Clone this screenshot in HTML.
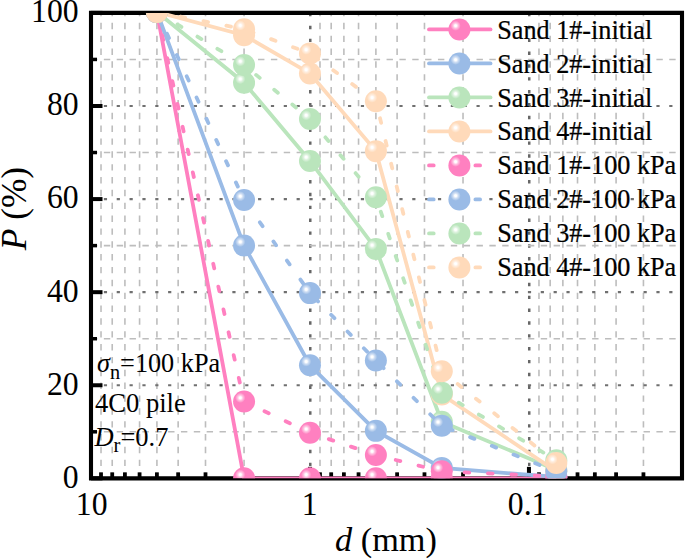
<!DOCTYPE html><html><head><meta charset="utf-8"><style>html,body{margin:0;padding:0;background:#fff;}svg{display:block;}text{font-family:"Liberation Serif",serif;}.b{stroke:#000;stroke-width:0.25px;}</style></head><body>
<svg width="685" height="560" viewBox="0 0 685 560">
<defs>
<radialGradient id="gpink" cx="0.328" cy="0.33" r="0.23" fx="0.328" fy="0.33"><stop offset="0" stop-color="#fff"/><stop offset="0.2" stop-color="#fff"/><stop offset="0.5" stop-color="#ffc6e3"/><stop offset="0.85" stop-color="#ff97cb"/><stop offset="1" stop-color="#FF80C0"/></radialGradient>
<radialGradient id="gblue" cx="0.328" cy="0.33" r="0.23" fx="0.328" fy="0.33"><stop offset="0" stop-color="#fff"/><stop offset="0.2" stop-color="#fff"/><stop offset="0.5" stop-color="#d2e0f4"/><stop offset="0.85" stop-color="#acc7ea"/><stop offset="1" stop-color="#9ABBE6"/></radialGradient>
<radialGradient id="ggreen" cx="0.328" cy="0.33" r="0.23" fx="0.328" fy="0.33"><stop offset="0" stop-color="#fff"/><stop offset="0.2" stop-color="#fff"/><stop offset="0.5" stop-color="#e0f3e1"/><stop offset="0.85" stop-color="#c6eac8"/><stop offset="1" stop-color="#BAE5BC"/></radialGradient>
<radialGradient id="gpeach" cx="0.328" cy="0.33" r="0.23" fx="0.328" fy="0.33"><stop offset="0" stop-color="#fff"/><stop offset="0.2" stop-color="#fff"/><stop offset="0.5" stop-color="#ffeee0"/><stop offset="0.85" stop-color="#ffe1c6"/><stop offset="1" stop-color="#FFDABA"/></radialGradient>
<clipPath id="clip"><rect x="91.0" y="12.9" width="591.0" height="465.45"/></clipPath>
</defs>
<rect width="685" height="560" fill="#fff"/>
<line x1="244.06" y1="478.95" x2="244.06" y2="12.9" stroke="#bdbdbd" stroke-width="1.6" stroke-dasharray="6.4 6.45"/>
<line x1="205.50" y1="478.95" x2="205.50" y2="12.9" stroke="#bdbdbd" stroke-width="1.6" stroke-dasharray="6.4 6.45"/>
<line x1="178.14" y1="478.95" x2="178.14" y2="12.9" stroke="#bdbdbd" stroke-width="1.6" stroke-dasharray="6.4 6.45"/>
<line x1="156.92" y1="478.95" x2="156.92" y2="12.9" stroke="#bdbdbd" stroke-width="1.6" stroke-dasharray="6.4 6.45"/>
<line x1="139.58" y1="478.95" x2="139.58" y2="12.9" stroke="#bdbdbd" stroke-width="1.6" stroke-dasharray="6.4 6.45"/>
<line x1="124.92" y1="478.95" x2="124.92" y2="12.9" stroke="#bdbdbd" stroke-width="1.6" stroke-dasharray="6.4 6.45"/>
<line x1="112.22" y1="478.95" x2="112.22" y2="12.9" stroke="#bdbdbd" stroke-width="1.6" stroke-dasharray="6.4 6.45"/>
<line x1="101.02" y1="478.95" x2="101.02" y2="12.9" stroke="#bdbdbd" stroke-width="1.6" stroke-dasharray="6.4 6.45"/>
<line x1="463.03" y1="478.95" x2="463.03" y2="12.9" stroke="#bdbdbd" stroke-width="1.6" stroke-dasharray="6.4 6.45"/>
<line x1="424.47" y1="478.95" x2="424.47" y2="12.9" stroke="#bdbdbd" stroke-width="1.6" stroke-dasharray="6.4 6.45"/>
<line x1="397.11" y1="478.95" x2="397.11" y2="12.9" stroke="#bdbdbd" stroke-width="1.6" stroke-dasharray="6.4 6.45"/>
<line x1="375.89" y1="478.95" x2="375.89" y2="12.9" stroke="#bdbdbd" stroke-width="1.6" stroke-dasharray="6.4 6.45"/>
<line x1="358.55" y1="478.95" x2="358.55" y2="12.9" stroke="#bdbdbd" stroke-width="1.6" stroke-dasharray="6.4 6.45"/>
<line x1="343.89" y1="478.95" x2="343.89" y2="12.9" stroke="#bdbdbd" stroke-width="1.6" stroke-dasharray="6.4 6.45"/>
<line x1="331.19" y1="478.95" x2="331.19" y2="12.9" stroke="#bdbdbd" stroke-width="1.6" stroke-dasharray="6.4 6.45"/>
<line x1="319.99" y1="478.95" x2="319.99" y2="12.9" stroke="#bdbdbd" stroke-width="1.6" stroke-dasharray="6.4 6.45"/>
<line x1="643.44" y1="478.95" x2="643.44" y2="12.9" stroke="#bdbdbd" stroke-width="1.6" stroke-dasharray="6.4 6.45"/>
<line x1="616.08" y1="478.95" x2="616.08" y2="12.9" stroke="#bdbdbd" stroke-width="1.6" stroke-dasharray="6.4 6.45"/>
<line x1="594.86" y1="478.95" x2="594.86" y2="12.9" stroke="#bdbdbd" stroke-width="1.6" stroke-dasharray="6.4 6.45"/>
<line x1="577.52" y1="478.95" x2="577.52" y2="12.9" stroke="#bdbdbd" stroke-width="1.6" stroke-dasharray="6.4 6.45"/>
<line x1="562.86" y1="478.95" x2="562.86" y2="12.9" stroke="#bdbdbd" stroke-width="1.6" stroke-dasharray="6.4 6.45"/>
<line x1="550.17" y1="478.95" x2="550.17" y2="12.9" stroke="#bdbdbd" stroke-width="1.6" stroke-dasharray="6.4 6.45"/>
<line x1="538.96" y1="478.95" x2="538.96" y2="12.9" stroke="#bdbdbd" stroke-width="1.6" stroke-dasharray="6.4 6.45"/>
<line x1="310.27" y1="478.95" x2="310.27" y2="12.9" stroke="#666" stroke-width="2.5" stroke-dasharray="3.4 9.45"/>
<line x1="529.24" y1="478.95" x2="529.24" y2="12.9" stroke="#666" stroke-width="2.5" stroke-dasharray="3.4 9.45"/>
<line x1="91.0" y1="431.81" x2="682.0" y2="431.81" stroke="#bdbdbd" stroke-width="1.6" stroke-dasharray="6.4 6.45"/>
<line x1="91.0" y1="338.72" x2="682.0" y2="338.72" stroke="#bdbdbd" stroke-width="1.6" stroke-dasharray="6.4 6.45"/>
<line x1="91.0" y1="245.62" x2="682.0" y2="245.62" stroke="#bdbdbd" stroke-width="1.6" stroke-dasharray="6.4 6.45"/>
<line x1="91.0" y1="152.53" x2="682.0" y2="152.53" stroke="#bdbdbd" stroke-width="1.6" stroke-dasharray="6.4 6.45"/>
<line x1="91.0" y1="59.44" x2="682.0" y2="59.44" stroke="#bdbdbd" stroke-width="1.6" stroke-dasharray="6.4 6.45"/>
<line x1="91.0" y1="385.26" x2="682.0" y2="385.26" stroke="#707070" stroke-width="2.2" stroke-dasharray="3.2 9.65"/>
<line x1="91.0" y1="292.17" x2="682.0" y2="292.17" stroke="#707070" stroke-width="2.2" stroke-dasharray="3.2 9.65"/>
<line x1="91.0" y1="199.08" x2="682.0" y2="199.08" stroke="#707070" stroke-width="2.2" stroke-dasharray="3.2 9.65"/>
<line x1="91.0" y1="105.99" x2="682.0" y2="105.99" stroke="#707070" stroke-width="2.2" stroke-dasharray="3.2 9.65"/>
<path d="M89,12.9H684M89,478.4H684M91,10.8V480.5M682,10.8V480.5" stroke="#000" stroke-width="4.1" fill="none"/>
<line x1="91.0" y1="478.35" x2="102.5" y2="478.35" stroke="#000" stroke-width="4"/>
<line x1="91.0" y1="385.26" x2="102.5" y2="385.26" stroke="#000" stroke-width="4"/>
<line x1="91.0" y1="292.17" x2="102.5" y2="292.17" stroke="#000" stroke-width="4"/>
<line x1="91.0" y1="199.08" x2="102.5" y2="199.08" stroke="#000" stroke-width="4"/>
<line x1="91.0" y1="105.99" x2="102.5" y2="105.99" stroke="#000" stroke-width="4"/>
<line x1="91.0" y1="12.90" x2="102.5" y2="12.90" stroke="#000" stroke-width="4"/>
<line x1="91.0" y1="431.81" x2="97.0" y2="431.81" stroke="#000" stroke-width="3.5"/>
<line x1="91.0" y1="338.72" x2="97.0" y2="338.72" stroke="#000" stroke-width="3.5"/>
<line x1="91.0" y1="245.62" x2="97.0" y2="245.62" stroke="#000" stroke-width="3.5"/>
<line x1="91.0" y1="152.53" x2="97.0" y2="152.53" stroke="#000" stroke-width="3.5"/>
<line x1="91.0" y1="59.44" x2="97.0" y2="59.44" stroke="#000" stroke-width="3.5"/>
<line x1="91.00" y1="478.35" x2="91.00" y2="466.85" stroke="#000" stroke-width="4"/>
<line x1="309.97" y1="478.35" x2="309.97" y2="466.85" stroke="#000" stroke-width="4"/>
<line x1="528.94" y1="478.35" x2="528.94" y2="466.85" stroke="#000" stroke-width="4"/>
<line x1="244.06" y1="478.35" x2="244.06" y2="472.35" stroke="#000" stroke-width="3.8"/>
<line x1="205.50" y1="478.35" x2="205.50" y2="472.35" stroke="#000" stroke-width="3.8"/>
<line x1="178.14" y1="478.35" x2="178.14" y2="472.35" stroke="#000" stroke-width="3.8"/>
<line x1="156.92" y1="478.35" x2="156.92" y2="472.35" stroke="#000" stroke-width="3.8"/>
<line x1="139.58" y1="478.35" x2="139.58" y2="472.35" stroke="#000" stroke-width="3.8"/>
<line x1="124.92" y1="478.35" x2="124.92" y2="472.35" stroke="#000" stroke-width="3.8"/>
<line x1="112.22" y1="478.35" x2="112.22" y2="472.35" stroke="#000" stroke-width="3.8"/>
<line x1="101.02" y1="478.35" x2="101.02" y2="472.35" stroke="#000" stroke-width="3.8"/>
<line x1="463.03" y1="478.35" x2="463.03" y2="472.35" stroke="#000" stroke-width="3.8"/>
<line x1="424.47" y1="478.35" x2="424.47" y2="472.35" stroke="#000" stroke-width="3.8"/>
<line x1="397.11" y1="478.35" x2="397.11" y2="472.35" stroke="#000" stroke-width="3.8"/>
<line x1="375.89" y1="478.35" x2="375.89" y2="472.35" stroke="#000" stroke-width="3.8"/>
<line x1="358.55" y1="478.35" x2="358.55" y2="472.35" stroke="#000" stroke-width="3.8"/>
<line x1="343.89" y1="478.35" x2="343.89" y2="472.35" stroke="#000" stroke-width="3.8"/>
<line x1="331.19" y1="478.35" x2="331.19" y2="472.35" stroke="#000" stroke-width="3.8"/>
<line x1="319.99" y1="478.35" x2="319.99" y2="472.35" stroke="#000" stroke-width="3.8"/>
<line x1="643.44" y1="478.35" x2="643.44" y2="472.35" stroke="#000" stroke-width="3.8"/>
<line x1="616.08" y1="478.35" x2="616.08" y2="472.35" stroke="#000" stroke-width="3.8"/>
<line x1="594.86" y1="478.35" x2="594.86" y2="472.35" stroke="#000" stroke-width="3.8"/>
<line x1="577.52" y1="478.35" x2="577.52" y2="472.35" stroke="#000" stroke-width="3.8"/>
<line x1="562.86" y1="478.35" x2="562.86" y2="472.35" stroke="#000" stroke-width="3.8"/>
<line x1="550.17" y1="478.35" x2="550.17" y2="472.35" stroke="#000" stroke-width="3.8"/>
<line x1="538.96" y1="478.35" x2="538.96" y2="472.35" stroke="#000" stroke-width="3.8"/>
<g clip-path="url(#clip)">
<polyline points="156.92,11.97 244.06,478.35 309.97,478.35 375.89,478.35 441.81,478.35 556.30,478.35" fill="none" stroke="#FF80C0" stroke-width="3.8"/>
<circle cx="156.92" cy="11.97" r="11" fill="url(#gpink)"/>
<circle cx="244.06" cy="478.35" r="11" fill="url(#gpink)"/>
<circle cx="309.97" cy="478.35" r="11" fill="url(#gpink)"/>
<circle cx="375.89" cy="478.35" r="11" fill="url(#gpink)"/>
<circle cx="441.81" cy="478.35" r="11" fill="url(#gpink)"/>
<circle cx="556.30" cy="478.35" r="11" fill="url(#gpink)"/>
<polyline points="156.92,11.97 244.06,245.62 309.97,365.25 375.89,430.87 441.81,467.88 556.30,476.95" fill="none" stroke="#9ABBE6" stroke-width="3.8"/>
<circle cx="156.92" cy="11.97" r="11" fill="url(#gblue)"/>
<circle cx="244.06" cy="245.62" r="11" fill="url(#gblue)"/>
<circle cx="309.97" cy="365.25" r="11" fill="url(#gblue)"/>
<circle cx="375.89" cy="430.87" r="11" fill="url(#gblue)"/>
<circle cx="441.81" cy="467.88" r="11" fill="url(#gblue)"/>
<circle cx="556.30" cy="476.95" r="11" fill="url(#gblue)"/>
<polyline points="156.92,11.97 244.06,82.72 309.97,160.91 375.89,248.88 441.81,421.80 556.30,469.97" fill="none" stroke="#BAE5BC" stroke-width="3.8"/>
<circle cx="156.92" cy="11.97" r="11" fill="url(#ggreen)"/>
<circle cx="244.06" cy="82.72" r="11" fill="url(#ggreen)"/>
<circle cx="309.97" cy="160.91" r="11" fill="url(#ggreen)"/>
<circle cx="375.89" cy="248.88" r="11" fill="url(#ggreen)"/>
<circle cx="441.81" cy="421.80" r="11" fill="url(#ggreen)"/>
<circle cx="556.30" cy="469.97" r="11" fill="url(#ggreen)"/>
<polyline points="156.92,11.97 244.06,35.24 309.97,73.41 375.89,151.14 441.81,394.57 556.30,471.37" fill="none" stroke="#FFDABA" stroke-width="3.8"/>
<circle cx="156.92" cy="11.97" r="11" fill="url(#gpeach)"/>
<circle cx="244.06" cy="35.24" r="11" fill="url(#gpeach)"/>
<circle cx="309.97" cy="73.41" r="11" fill="url(#gpeach)"/>
<circle cx="375.89" cy="151.14" r="11" fill="url(#gpeach)"/>
<circle cx="441.81" cy="394.57" r="11" fill="url(#gpeach)"/>
<circle cx="556.30" cy="471.37" r="11" fill="url(#gpeach)"/>
<polyline points="156.92,11.97 244.06,401.55 309.97,432.74 375.89,455.08 441.81,471.37 556.30,476.49" fill="none" stroke="#FF80C0" stroke-width="3.8" stroke-dasharray="4.7 18.7" stroke-dashoffset="-0.6" stroke-linecap="round"/>
<circle cx="156.92" cy="11.97" r="11" fill="url(#gpink)"/>
<circle cx="244.06" cy="401.55" r="11" fill="url(#gpink)"/>
<circle cx="309.97" cy="432.74" r="11" fill="url(#gpink)"/>
<circle cx="375.89" cy="455.08" r="11" fill="url(#gpink)"/>
<circle cx="441.81" cy="471.37" r="11" fill="url(#gpink)"/>
<circle cx="556.30" cy="476.49" r="11" fill="url(#gpink)"/>
<polyline points="156.92,11.97 244.06,200.01 309.97,293.10 375.89,360.59 441.81,425.75 556.30,471.83" fill="none" stroke="#9ABBE6" stroke-width="3.8" stroke-dasharray="4.7 18.7" stroke-dashoffset="-0.6" stroke-linecap="round"/>
<circle cx="156.92" cy="11.97" r="11" fill="url(#gblue)"/>
<circle cx="244.06" cy="200.01" r="11" fill="url(#gblue)"/>
<circle cx="309.97" cy="293.10" r="11" fill="url(#gblue)"/>
<circle cx="375.89" cy="360.59" r="11" fill="url(#gblue)"/>
<circle cx="441.81" cy="425.75" r="11" fill="url(#gblue)"/>
<circle cx="556.30" cy="471.83" r="11" fill="url(#gblue)"/>
<polyline points="156.92,11.97 244.06,65.03 309.97,119.02 375.89,197.22 441.81,392.71 556.30,460.20" fill="none" stroke="#BAE5BC" stroke-width="3.8" stroke-dasharray="4.7 18.7" stroke-dashoffset="-0.6" stroke-linecap="round"/>
<circle cx="156.92" cy="11.97" r="11" fill="url(#ggreen)"/>
<circle cx="244.06" cy="65.03" r="11" fill="url(#ggreen)"/>
<circle cx="309.97" cy="119.02" r="11" fill="url(#ggreen)"/>
<circle cx="375.89" cy="197.22" r="11" fill="url(#ggreen)"/>
<circle cx="441.81" cy="392.71" r="11" fill="url(#ggreen)"/>
<circle cx="556.30" cy="460.20" r="11" fill="url(#ggreen)"/>
<polyline points="156.92,11.97 244.06,29.19 309.97,53.39 375.89,101.34 441.81,371.30 556.30,462.99" fill="none" stroke="#FFDABA" stroke-width="3.8" stroke-dasharray="4.7 18.7" stroke-dashoffset="-0.6" stroke-linecap="round"/>
<circle cx="156.92" cy="11.97" r="11" fill="url(#gpeach)"/>
<circle cx="244.06" cy="29.19" r="11" fill="url(#gpeach)"/>
<circle cx="309.97" cy="53.39" r="11" fill="url(#gpeach)"/>
<circle cx="375.89" cy="101.34" r="11" fill="url(#gpeach)"/>
<circle cx="441.81" cy="371.30" r="11" fill="url(#gpeach)"/>
<circle cx="556.30" cy="462.99" r="11" fill="url(#gpeach)"/>
</g>
<line x1="429" y1="29.45" x2="490.5" y2="29.45" stroke="#FF80C0" stroke-width="3.8" stroke-linecap="round"/>
<circle cx="459.4" cy="29.45" r="11" fill="url(#gpink)"/>
<text transform="translate(497.2,39.00) scale(0.936,1)" font-size="28" class="b">Sand 1#-initial</text>
<line x1="429" y1="63.45" x2="490.5" y2="63.45" stroke="#9ABBE6" stroke-width="3.8" stroke-linecap="round"/>
<circle cx="459.4" cy="63.45" r="11" fill="url(#gblue)"/>
<text transform="translate(497.2,72.81) scale(0.936,1)" font-size="28" class="b">Sand 2#-initial</text>
<line x1="429" y1="97.45" x2="490.5" y2="97.45" stroke="#BAE5BC" stroke-width="3.8" stroke-linecap="round"/>
<circle cx="459.4" cy="97.45" r="11" fill="url(#ggreen)"/>
<text transform="translate(497.2,106.62) scale(0.936,1)" font-size="28" class="b">Sand 3#-initial</text>
<line x1="429" y1="131.45" x2="490.5" y2="131.45" stroke="#FFDABA" stroke-width="3.8" stroke-linecap="round"/>
<circle cx="459.4" cy="131.45" r="11" fill="url(#gpeach)"/>
<text transform="translate(497.2,140.43) scale(0.936,1)" font-size="28" class="b">Sand 4#-initial</text>
<line x1="429" y1="165.45" x2="490.5" y2="165.45" stroke="#FF80C0" stroke-width="3.8" stroke-dasharray="4.7 18.5" stroke-linecap="round"/>
<circle cx="459.4" cy="165.45" r="11" fill="url(#gpink)"/>
<text transform="translate(497.2,174.24) scale(0.936,1)" font-size="28" class="b">Sand 1#-100 kPa</text>
<line x1="429" y1="199.45" x2="490.5" y2="199.45" stroke="#9ABBE6" stroke-width="3.8" stroke-dasharray="4.7 18.5" stroke-linecap="round"/>
<circle cx="459.4" cy="199.45" r="11" fill="url(#gblue)"/>
<text transform="translate(497.2,208.05) scale(0.936,1)" font-size="28" class="b">Sand 2#-100 kPa</text>
<line x1="429" y1="233.45" x2="490.5" y2="233.45" stroke="#BAE5BC" stroke-width="3.8" stroke-dasharray="4.7 18.5" stroke-linecap="round"/>
<circle cx="459.4" cy="233.45" r="11" fill="url(#ggreen)"/>
<text transform="translate(497.2,241.86) scale(0.936,1)" font-size="28" class="b">Sand 3#-100 kPa</text>
<line x1="429" y1="267.45" x2="490.5" y2="267.45" stroke="#FFDABA" stroke-width="3.8" stroke-dasharray="4.7 18.5" stroke-linecap="round"/>
<circle cx="459.4" cy="267.45" r="11" fill="url(#gpeach)"/>
<text transform="translate(497.2,275.67) scale(0.936,1)" font-size="28" class="b">Sand 4#-100 kPa</text>
<text transform="translate(78.6,487.75) scale(0.955,1)" font-size="33.2" text-anchor="end">0</text>
<text transform="translate(78.6,394.66) scale(0.955,1)" font-size="33.2" text-anchor="end">20</text>
<text transform="translate(78.6,301.57) scale(0.955,1)" font-size="33.2" text-anchor="end">40</text>
<text transform="translate(78.6,208.48) scale(0.955,1)" font-size="33.2" text-anchor="end">60</text>
<text transform="translate(78.6,115.39) scale(0.955,1)" font-size="33.2" text-anchor="end">80</text>
<text transform="translate(78.6,22.30) scale(0.955,1)" font-size="33.2" text-anchor="end">100</text>
<text transform="translate(91.70,515.2) scale(0.955,1)" font-size="33.2" text-anchor="middle">10</text>
<text transform="translate(309.60,515.2) scale(0.955,1)" font-size="33.2" text-anchor="middle">1</text>
<text transform="translate(527.60,515.2) scale(0.955,1)" font-size="33.2" text-anchor="middle">0.1</text>
<text x="386" y="551.2" font-size="34.3" text-anchor="middle"><tspan font-style="italic">d</tspan> (mm)</text>
<text transform="translate(25.5,208.6) rotate(-90)" font-size="35.3" text-anchor="middle"><tspan font-style="italic">P</tspan> (%)</text>
<text transform="translate(97,372.4) scale(0.965,1)" font-size="27.2"><tspan font-style="italic">σ</tspan><tspan font-size="21" dy="6.3">n</tspan><tspan dy="-6.3">=100 kPa</tspan></text>
<text transform="translate(95,411.6) scale(0.985,1)" font-size="27">4C0 pile</text>
<text transform="translate(94.5,445.7) scale(0.98,1)" font-size="27"><tspan font-style="italic">D</tspan><tspan font-size="21" dy="6.7">r</tspan><tspan dy="-6.7">=0.7</tspan></text>
</svg></body></html>
